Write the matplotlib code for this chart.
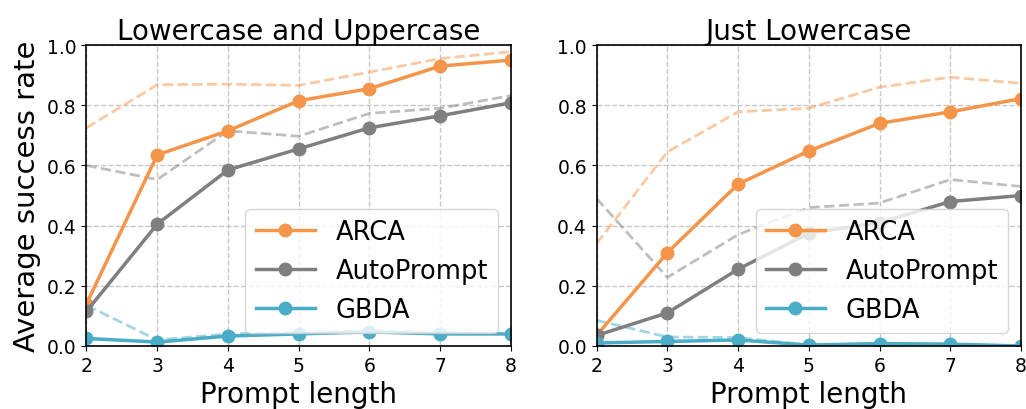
import matplotlib
matplotlib.use("Agg")
import matplotlib.pyplot as plt

lengths = [2, 3, 4, 5, 6, 7, 8]

# Lowercase and Uppercase
arca_lu = [0.14, 0.635, 0.715, 0.815, 0.855, 0.93, 0.95]
auto_lu = [0.115, 0.405, 0.585, 0.655, 0.725, 0.765, 0.808]
gbda_lu = [0.025, 0.013, 0.033, 0.04, 0.047, 0.04, 0.04]
arca_lu_dash = [0.725, 0.868, 0.87, 0.866, 0.91, 0.955, 0.978]
auto_lu_dash = [0.60, 0.553, 0.715, 0.697, 0.773, 0.79, 0.832]
gbda_lu_dash = [0.135, 0.02, 0.04, 0.045, 0.05, 0.045, 0.04]

# Just Lowercase
arca_l = [0.035, 0.31, 0.538, 0.648, 0.74, 0.778, 0.822]
auto_l = [0.035, 0.11, 0.255, 0.375, 0.41, 0.48, 0.50]
gbda_l = [0.01, 0.015, 0.02, 0.003, 0.008, 0.006, 0.0]
arca_l_dash = [0.34, 0.645, 0.778, 0.79, 0.86, 0.893, 0.873]
auto_l_dash = [0.49, 0.228, 0.37, 0.46, 0.475, 0.553, 0.53]
gbda_l_dash = [0.085, 0.03, 0.028, 0.003, 0.008, 0.006, 0.0]

titles = ["Lowercase and Uppercase", "Just Lowercase"]
names = ["ARCA", "AutoPrompt", "GBDA"]
colors = ["#f5954a", "#7f7f7f", "#4aacc6"]

fig = plt.figure(figsize=(10.26, 4.1), dpi=100)
ax1 = fig.add_axes([0.0843, 0.1537, 0.4137, 0.734])
ax2 = fig.add_axes([0.5815, 0.1537, 0.4137, 0.734])

panels = [
    (ax1, [arca_lu, auto_lu, gbda_lu], [arca_lu_dash, auto_lu_dash, gbda_lu_dash]),
    (ax2, [arca_l, auto_l, gbda_l], [arca_l_dash, auto_l_dash, gbda_l_dash]),
]

for i, (ax, solid, dashed) in enumerate(panels):
    # dashed lines first, lighter
    for ys, c in zip(dashed, colors):
        ax.plot(lengths, ys, linestyle="--", color=c, alpha=0.5, linewidth=2)
    for ys, c, n in zip(solid, colors, names):
        ax.plot(lengths, ys, marker="o", color=c, linewidth=2.5, markersize=9, label=n)
    ax.set_xlim(2, 8)
    ax.set_ylim(0, 1.0)
    ax.set_xticks(lengths)
    ax.set_yticks([0.0, 0.2, 0.4, 0.6, 0.8, 1.0])
    ax.tick_params(labelsize=13.5)
    ax.grid(True, linestyle="--", color="#c8c8c8", linewidth=1)
    ax.set_axisbelow(True)
    ax.set_title(titles[i], fontsize=20, pad=4)
    ax.set_xlabel("Prompt length", fontsize=20, labelpad=4)
    ax.legend(loc="lower right", fontsize=18.5, handlelength=2.3)
    for s in ax.spines.values():
        s.set_linewidth(1.2)

ax1.set_ylabel("Average success rate", fontsize=21, labelpad=4)

fig.savefig("out.png", dpi=100)
